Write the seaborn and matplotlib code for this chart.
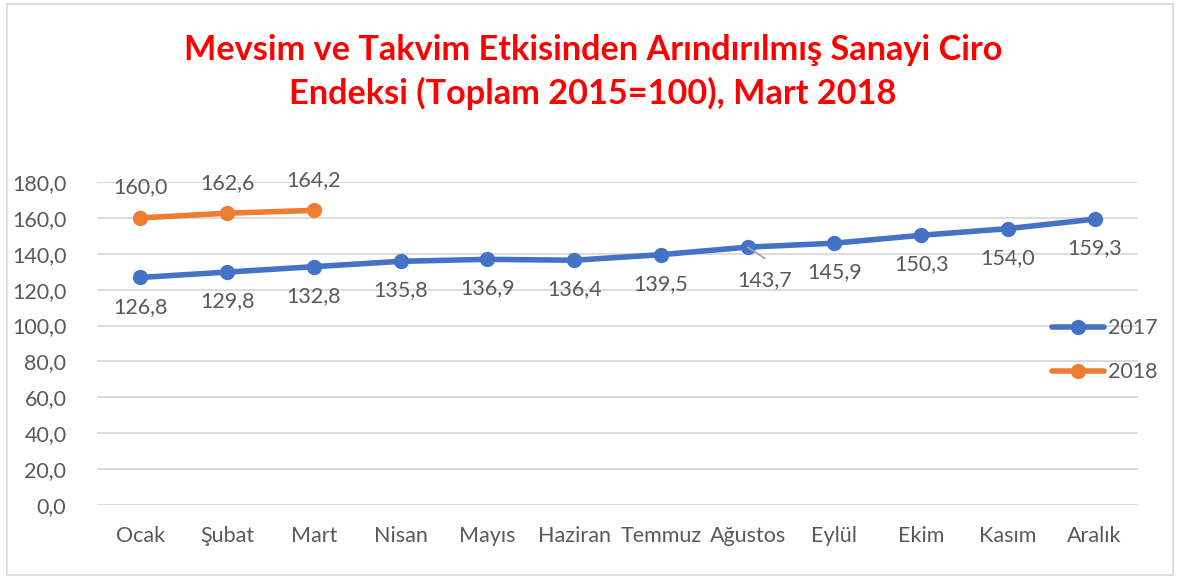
import matplotlib
matplotlib.use("Agg")
import matplotlib.pyplot as plt
import seaborn as sns
import pandas as pd
from matplotlib.patches import Rectangle
from matplotlib.lines import Line2D

months = ["Ocak", "Şubat", "Mart", "Nisan", "Mayıs", "Haziran", "Temmuz",
          "Ağustos", "Eylül", "Ekim", "Kasım", "Aralık"]
values_2017 = [126.8, 129.8, 132.8, 135.8, 136.9, 136.4, 139.5, 143.7, 145.9, 150.3, 154.0, 159.3]
values_2018 = [160.0, 162.6, 164.2]
series_names = ["2017", "2018"]
yticks = [0, 20, 40, 60, 80, 100, 120, 140, 160, 180]
title = "Mevsim ve Takvim Etkisinden Arındırılmış Sanayi Ciro\nEndeksi (Toplam 2015=100), Mart 2018"

sns.set_theme(style="white")
plt.rcParams['font.family'] = ['Lato', 'DejaVu Sans']

rows = []
for i, v in enumerate(values_2017):
    rows.append({"x": i, "value": v, "year": series_names[0]})
for i, v in enumerate(values_2018):
    rows.append({"x": i, "value": v, "year": series_names[1]})
df = pd.DataFrame(rows)

blue = "#4472C4"
orange = "#ED7D31"
grey = "#595959"
fs = 15.5

fig = plt.figure(figsize=(11.8, 5.79), dpi=100)
ax = fig.add_axes([97/1180, 1 - 505/579, (1138-97)/1180, (505-182)/579])

sns.lineplot(data=df, x="x", y="value", hue="year", palette=[blue, orange],
             marker="o", markersize=11, linewidth=4, markeredgewidth=0,
             ax=ax, legend=False)

ax.set_xlim(-0.5, len(months) - 0.5)
ax.set_ylim(0, 180)
ax.set_yticks(yticks)
ax.set_yticklabels([f"{t:.1f}".replace(".", ",") for t in yticks])
ax.set_xticks(range(len(months)))
ax.set_xticklabels(months)
ax.set_xlabel("")
ax.set_ylabel("")
ax.tick_params(axis="y", length=0, pad=22, labelsize=fs, labelcolor=grey)
ax.tick_params(axis="x", length=0, pad=15, labelsize=fs, labelcolor=grey)
ax.grid(axis="y", color="#D9D9D9", linewidth=1.3)
ax.set_axisbelow(True)
for s in ax.spines.values():
    s.set_visible(False)

def fmt(v):
    return f"{v:.1f}".replace(".", ",")

for i, v in enumerate(values_2017):
    dy = -21
    dx = 0
    if i == 7:
        dy = -24
        dx = 12
    ax.annotate(fmt(v), (i, v), xytext=(dx, dy), textcoords="offset points",
                ha="center", va="center", fontsize=fs, color=grey)
ax.annotate("", (7, values_2017[7]), xytext=(7.2, values_2017[7] - 6.3),
            arrowprops=dict(arrowstyle="-", color="#A6A6A6", lw=1.3,
                            shrinkA=0, shrinkB=0))
for i, v in enumerate(values_2018):
    ax.annotate(fmt(v), (i, v), xytext=(0, 22), textcoords="offset points",
                ha="center", va="center", fontsize=fs, color=grey)

handles = [Line2D([0], [0], color=blue, lw=4, marker="o", markersize=11, markeredgewidth=0),
           Line2D([0], [0], color=orange, lw=4, marker="o", markersize=11, markeredgewidth=0)]
fig.legend(handles, series_names, loc="upper left",
           bbox_to_anchor=(1033/1180, 1 - 299/579), frameon=False,
           fontsize=fs, labelcolor=grey, handlelength=2.4, handletextpad=0.2,
           labelspacing=1.1)

fig.text(593/1180, 1 - 72/579, title, ha="center", va="center", color="#FF0000",
         fontsize=24.7, fontweight="bold", linespacing=1.4)

fig.patches.append(Rectangle((7/1180, 4/579), 1166/1180, 571/579, transform=fig.transFigure,
                             fill=False, edgecolor="#D9D9D9", linewidth=1.2))

fig.savefig("out.png", dpi=100)
